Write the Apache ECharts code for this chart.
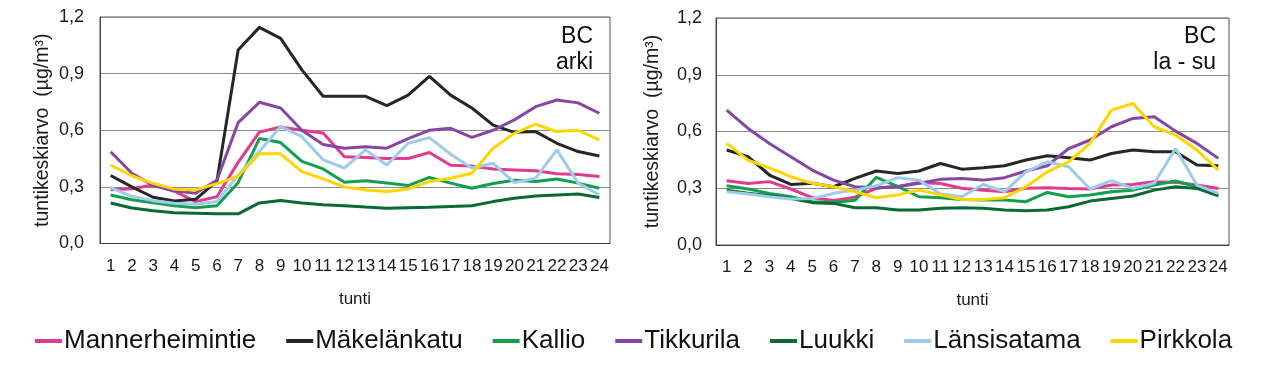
<!DOCTYPE html>
<html>
<head>
<meta charset="utf-8">
<script src="https://cdn.jsdelivr.net/npm/echarts@6/dist/echarts.min.js"></script>
<style>
html,body{margin:0;padding:0;background:#fff;}
#chart{width:1280px;height:375px;}
</style>
</head>
<body>
<div id="chart"></div>
<script>
const hours = ['1','2','3','4','5','6','7','8','9','10','11','12','13','14','15','16','17','18','19','20','21','22','23','24'];
const stations = ['Mannerheimintie','Mäkelänkatu','Kallio','Tikkurila','Luukki','Länsisatama','Pirkkola'];
const yTicks = [0, 0.3, 0.6, 0.9, 1.2];

// arki (weekdays)
const arkiMannerheimintie = [0.285,0.29,0.31,0.277,0.222,0.248,0.43,0.59,0.617,0.60,0.585,0.46,0.455,0.45,0.45,0.482,0.415,0.41,0.395,0.39,0.385,0.37,0.365,0.355];
const arkiMakelankatu     = [0.36,0.30,0.245,0.225,0.234,0.33,1.025,1.145,1.087,0.92,0.78,0.78,0.78,0.73,0.786,0.885,0.786,0.718,0.627,0.589,0.593,0.531,0.487,0.464];
const arkiKallio          = [0.257,0.232,0.216,0.2,0.19,0.2,0.322,0.556,0.535,0.435,0.395,0.325,0.332,0.32,0.307,0.35,0.32,0.293,0.318,0.335,0.328,0.342,0.32,0.293];
const arkiTikkurila       = [0.486,0.372,0.308,0.279,0.266,0.335,0.64,0.748,0.718,0.60,0.525,0.505,0.513,0.505,0.556,0.60,0.61,0.562,0.60,0.655,0.725,0.76,0.745,0.69];
const arkiLuukki          = [0.215,0.188,0.173,0.163,0.16,0.157,0.157,0.215,0.228,0.214,0.205,0.2,0.193,0.187,0.19,0.192,0.196,0.2,0.222,0.24,0.252,0.257,0.262,0.244];
const arkiLansisatama     = [0.296,0.25,0.227,0.213,0.208,0.222,0.362,0.488,0.62,0.566,0.443,0.40,0.496,0.416,0.531,0.561,0.473,0.40,0.425,0.323,0.346,0.496,0.32,0.258];
const arkiPirkkola        = [0.416,0.359,0.319,0.288,0.284,0.317,0.356,0.475,0.475,0.381,0.342,0.30,0.284,0.275,0.289,0.328,0.346,0.372,0.505,0.584,0.632,0.593,0.60,0.549];

// la - su (weekends)
const lasuMannerheimintie = [0.34,0.325,0.335,0.296,0.25,0.235,0.253,0.30,0.31,0.33,0.325,0.30,0.29,0.282,0.30,0.303,0.299,0.296,0.317,0.32,0.335,0.331,0.317,0.299];
const lasuMakelankatu     = [0.502,0.467,0.37,0.32,0.326,0.308,0.352,0.391,0.378,0.391,0.431,0.401,0.408,0.419,0.449,0.472,0.461,0.449,0.484,0.502,0.493,0.493,0.423,0.419];
const lasuKallio          = [0.313,0.296,0.273,0.255,0.229,0.225,0.236,0.358,0.31,0.255,0.25,0.241,0.238,0.238,0.229,0.278,0.255,0.264,0.282,0.29,0.317,0.338,0.308,0.264];
const lasuTikkurila       = [0.713,0.616,0.537,0.467,0.396,0.343,0.308,0.303,0.308,0.326,0.347,0.352,0.343,0.356,0.391,0.419,0.51,0.555,0.625,0.669,0.678,0.602,0.537,0.458];
const lasuLuukki          = [0.29,0.273,0.26,0.246,0.224,0.22,0.197,0.197,0.185,0.185,0.194,0.197,0.194,0.185,0.181,0.185,0.202,0.232,0.246,0.259,0.29,0.308,0.299,0.26];
const lasuLansisatama     = [0.282,0.27,0.255,0.243,0.246,0.273,0.29,0.313,0.356,0.343,0.27,0.255,0.32,0.282,0.387,0.44,0.414,0.296,0.34,0.299,0.326,0.51,0.317,0.273];
const lasuPirkkola        = [0.537,0.449,0.408,0.361,0.326,0.308,0.282,0.25,0.265,0.29,0.265,0.241,0.241,0.25,0.308,0.387,0.44,0.537,0.713,0.748,0.625,0.581,0.502,0.396];

const colors = ['#E23A8D','#262626','#12A04F','#8447A5','#0A6A33','#9ECBEA','#FFD500'];
const arkiData = [arkiMannerheimintie, arkiMakelankatu, arkiKallio, arkiTikkurila, arkiLuukki, arkiLansisatama, arkiPirkkola];
const lasuData = [lasuMannerheimintie, lasuMakelankatu, lasuKallio, lasuTikkurila, lasuLuukki, lasuLansisatama, lasuPirkkola];

const FONT = 'Liberation Sans, Arial, sans-serif';
const chart = echarts.init(document.getElementById('chart'), null, {renderer:'canvas'});

function xAx(gi){
  return {
    type:'category', gridIndex:gi, data:hours, boundaryGap:true,
    axisLine:{show:true, lineStyle:{color:'#404040', width:1}},
    axisTick:{show:false},
    axisLabel:{interval:0, color:'#1a1a1a', fontSize:17, fontFamily:FONT, margin:14},
    name:'tunti', nameLocation:'middle', nameGap:47,
    nameTextStyle:{color:'#1a1a1a', fontSize:17, fontFamily:FONT}
  };
}
function yAx(gi, gap, margin){
  return {
    type:'value', gridIndex:gi, min:0, max:1.2, interval:0.3,
    axisLine:{show:true, lineStyle:{color:'#404040', width:1}},
    axisTick:{show:false},
    splitLine:{show:true, lineStyle:{color:'#8a8a8a', width:1}},
    axisLabel:{color:'#1a1a1a', fontSize:18, fontFamily:FONT, margin:margin,
      formatter: v => v.toFixed(1).replace('.', ',')},
    name:'tuntikeskiarvo  (µg/m³)', nameLocation:'middle', nameGap:gap,
    nameTextStyle:{color:'#1a1a1a', fontSize:19.5, fontFamily:FONT}
  };
}

const series = [];
stations.forEach((s, i) => {
  series.push({name:s, type:'line', xAxisIndex:0, yAxisIndex:0, data:arkiData[i],
    symbol:'none', lineStyle:{width:3, color:colors[i]}, itemStyle:{color:colors[i]}, z: 2});
});
stations.forEach((s, i) => {
  series.push({name:s, type:'line', xAxisIndex:1, yAxisIndex:1, data:lasuData[i],
    symbol:'none', lineStyle:{width:3, color:colors[i]}, itemStyle:{color:colors[i]}, z: 2});
});

chart.setOption({
  animation:false,
  backgroundColor:'#fff',
  grid:[
    {left:100, top:17, width:510, height:226.5, show:true, borderColor:'#555', borderWidth:1, containLabel:false},
    {left:716, top:18, width:513, height:227, show:true, borderColor:'#555', borderWidth:1, containLabel:false}
  ],
  xAxis:[xAx(0), xAx(1)],
  yAxis:[yAx(0, 47, 16), yAx(1, 53, 14)],
  legend:{
    data:stations, bottom:16, left:30, itemGap:30, itemWidth:27, itemHeight:4,
    icon:'rect',
    textStyle:{fontSize:26, fontFamily:FONT, color:'#111', padding:[0,0,0,-3]}
  },
  graphic:[
    {type:'text', right:1280-593, top:24, style:{text:'BC\narki', align:'right', textAlign:'right', font:'23px Liberation Sans, Arial, sans-serif', fill:'#111', lineHeight:26}},
    {type:'text', right:1280-1216, top:24, style:{text:'BC\nla - su', align:'right', textAlign:'right', font:'23px Liberation Sans, Arial, sans-serif', fill:'#111', lineHeight:26}}
  ],
  series:series
});
</script>
</body>
</html>
